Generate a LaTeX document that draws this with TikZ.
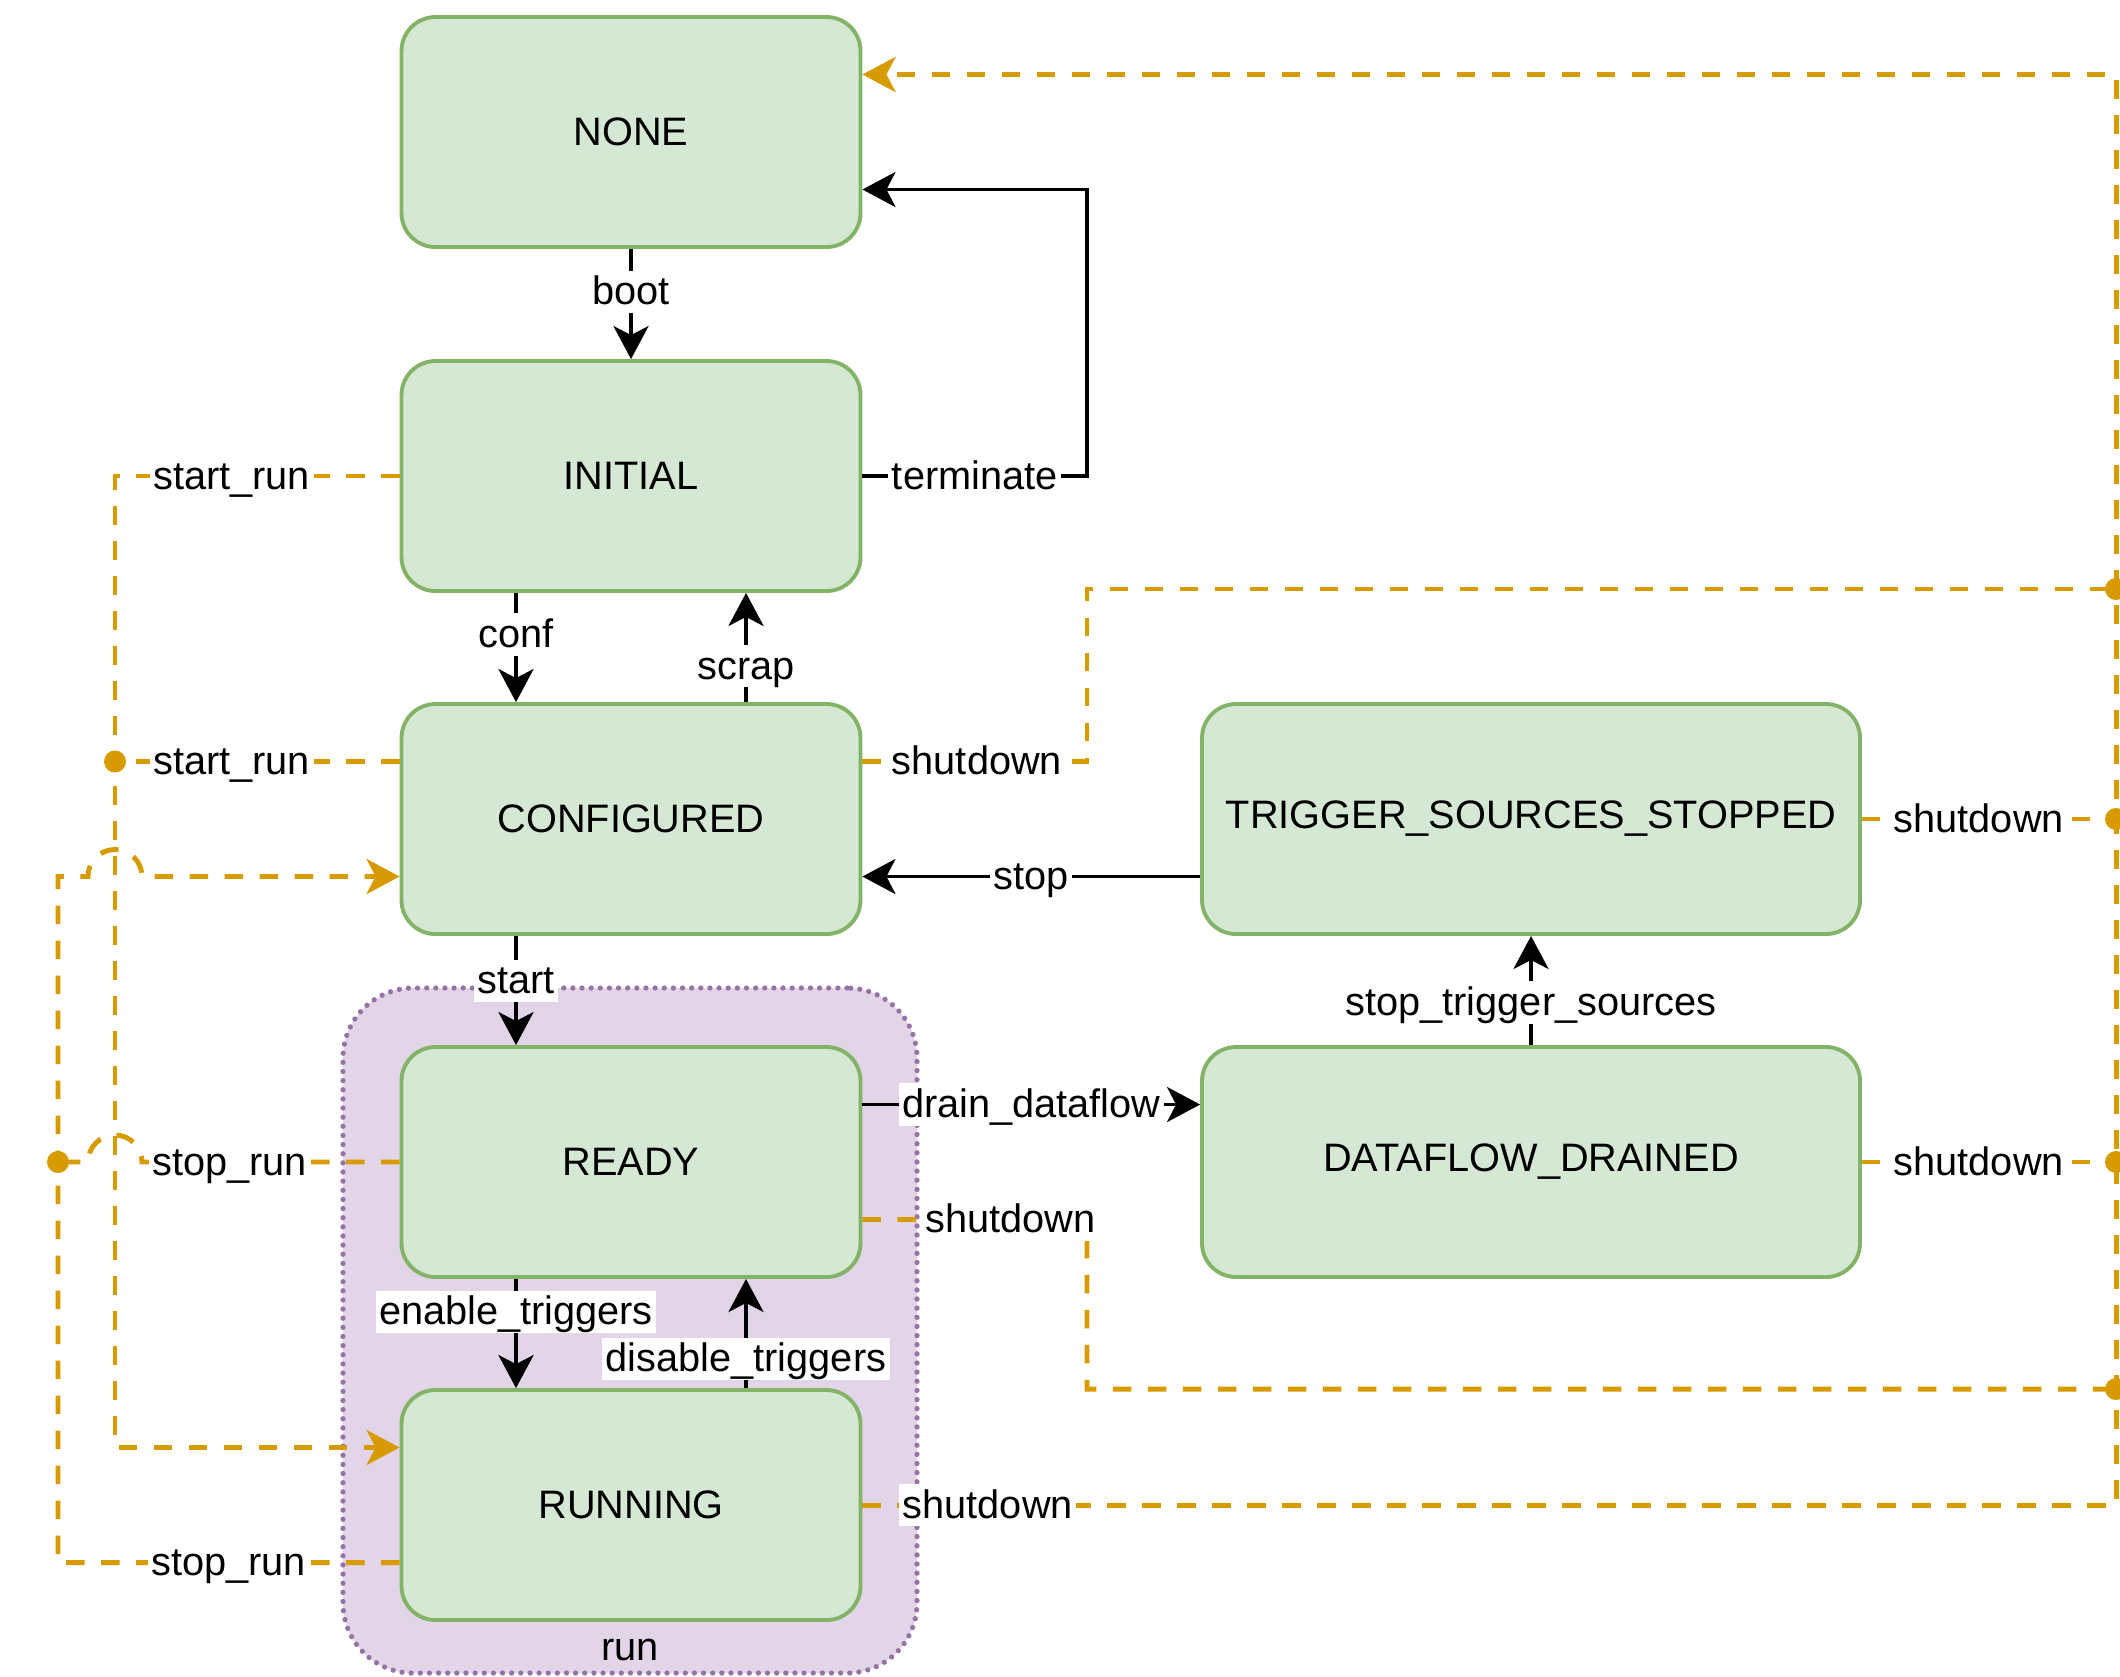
\documentclass[tikz,border=0pt]{standalone}
\usepackage{fontspec}
\setmainfont{Liberation Sans}
\usetikzlibrary{arrows.meta,calc}

\definecolor{stategreen}{HTML}{D5E8D4}
\definecolor{stateline}{HTML}{82B366}
\definecolor{runfill}{HTML}{E1D5E7}
\definecolor{runline}{HTML}{9673A6}
\definecolor{flowcol}{HTML}{D79B00}

\begin{document}
\begin{tikzpicture}[
		font=\fontsize{11.3}{13.5}\selectfont,
		state/.style={draw=stateline, fill=stategreen, line width=1.1pt, rounded corners=0.34cm, minimum width=4.59cm, minimum height=2.3cm},
		widestate/.style={state, minimum width=6.58cm},
		runbox/.style={draw=runline, fill=runfill, line width=1.5pt, dash pattern=on 0pt off 2.6pt, line cap=round, rounded corners=0.7cm},
		tip/.style={-{Stealth[length=0.33cm,width=0.35cm,inset=0.09cm]}},
		trans/.style={line width=1.1pt, tip},
		flow/.style={draw=flowcol, line width=1.4pt, dash pattern=on 0.185cm off 0.165cm},
		flowto/.style={flow, tip},
		lbl/.style={fill=white, inner sep=1pt, text=black, text height=0.87em, text depth=0.13em}
	]
			%%%%% START %%%%%
			
			\fill[white] (0,0) rectangle (21.2,-16.76);
			\useasboundingbox (0,0) rectangle (21.2,-16.76);
			
			% run group
			\node[runbox, minimum width=5.74cm, minimum height=6.85cm] (run) at (6.30,-13.305) {};
			\node (runlbl) at ([yshift=0.26cm]run.south) {run};
			
			% states
			\node[state] (none) at (6.31,-1.32) {NONE};
			\node[state] (initial) at (6.31,-4.76) {INITIAL};
			\node[state] (configured) at (6.31,-8.19) {CONFIGURED};
			\node[state] (ready) at (6.31,-11.62) {READY};
			\node[state] (running) at (6.31,-15.05) {RUNNING};
			\node[widestate] (trgstop) at (15.31,-8.19) {TRIGGER\_SOURCES\_STOPPED};
			\node[widestate] (drained) at (15.31,-11.62) {DATAFLOW\_DRAINED};
			
			% junctions
			\coordinate (jstart) at (1.15,-7.615);
			\coordinate (jstop) at (0.58,-11.62);
			\coordinate (jshut1) at (21.16,-5.89);
			\coordinate (jshut2) at (21.16,-8.19);
			\coordinate (jshut3) at (21.16,-11.62);
			\coordinate (jshut4) at (21.16,-13.89);
			
			% transitions
			\draw[trans] (none) -- node[lbl,pos=0.39]{boot} (initial);
			\draw[trans] (initial.east) -- node[lbl]{terminate} (10.87,-4.76) |- ([yshift=-0.575cm]none.east);
			\draw[trans] ([xshift=-1.15cm]initial.south) -- node[lbl,pos=0.38]{conf} ([xshift=-1.15cm]configured.north);
			\draw[trans] ([xshift=1.15cm]configured.north) -- node[lbl,pos=0.33]{scrap} ([xshift=1.15cm]initial.south);
			\draw[trans] ([xshift=-1.15cm]configured.south) -- node[lbl,pos=0.41]{start} ([xshift=-1.15cm]ready.north);
			\draw[trans] ([xshift=-1.15cm]ready.south) -- node[lbl,pos=0.3]{enable\_triggers} ([xshift=-1.15cm]running.north);
			\draw[trans] ([xshift=1.15cm]running.north) -- node[lbl,pos=0.27]{disable\_triggers} ([xshift=1.15cm]ready.south);
			\draw[trans] ([yshift=0.575cm]ready.east) -- node[lbl]{drain\_dataflow} ([yshift=0.575cm]drained.west);
			\draw[trans] (drained.north) -- node[lbl,pos=0.39]{stop\_trigger\_sources} (trgstop.south);
			\draw[trans] ([yshift=-0.575cm]trgstop.west) -- node[lbl]{stop} ([yshift=-0.575cm]configured.east);
			
			% start_run / stop_run
			\draw[flowto] (initial.west) -- node[lbl,pos=0.59]{start\_run} (1.15,-4.76) |- ([yshift=0.575cm]running.west);
			\draw[flow] ([yshift=0.575cm]configured.west) -- node[lbl,pos=0.59]{start\_run} (jstart);
			\draw[flow] (ready.west) -- node[lbl,pos=0.66]{stop\_run} (1.42,-11.62) arc[start angle=0,end angle=180,radius=0.27] -- (jstop);
			\draw[flowto] ([yshift=-0.575cm]running.west) -- node[lbl]{stop\_run} (0.58,-15.625) -- (0.58,-8.765) -- (0.88,-8.765) arc[start angle=180,end angle=0,radius=0.27] -- ([yshift=-0.575cm]configured.west);
			
			% shutdown
			\draw[flow] ([yshift=0.575cm]configured.east) -- node[lbl,pos=0.51]{shutdown} (10.87,-7.615) |- (jshut1);
			\draw[flow] (trgstop.east) -- node[lbl,pos=0.46]{shutdown} (jshut2);
			\draw[flow] (drained.east) -- node[lbl,pos=0.46]{shutdown} (jshut3);
			\draw[flow] ([yshift=-0.575cm]ready.east) -- node[lbl,pos=0.66]{shutdown} (10.87,-12.195) |- (jshut4);
			\draw[flowto] (running.east) -- node[lbl,pos=0.1]{shutdown} (21.16,-15.05) |- ([yshift=0.575cm]none.east);
			
			\foreach \j in {jstart,jstop,jshut1,jshut2,jshut3,jshut4}
				\fill[flowcol] (\j) circle (0.11);
			
			%%%%% END %%%%%
\end{tikzpicture}
\end{document}
